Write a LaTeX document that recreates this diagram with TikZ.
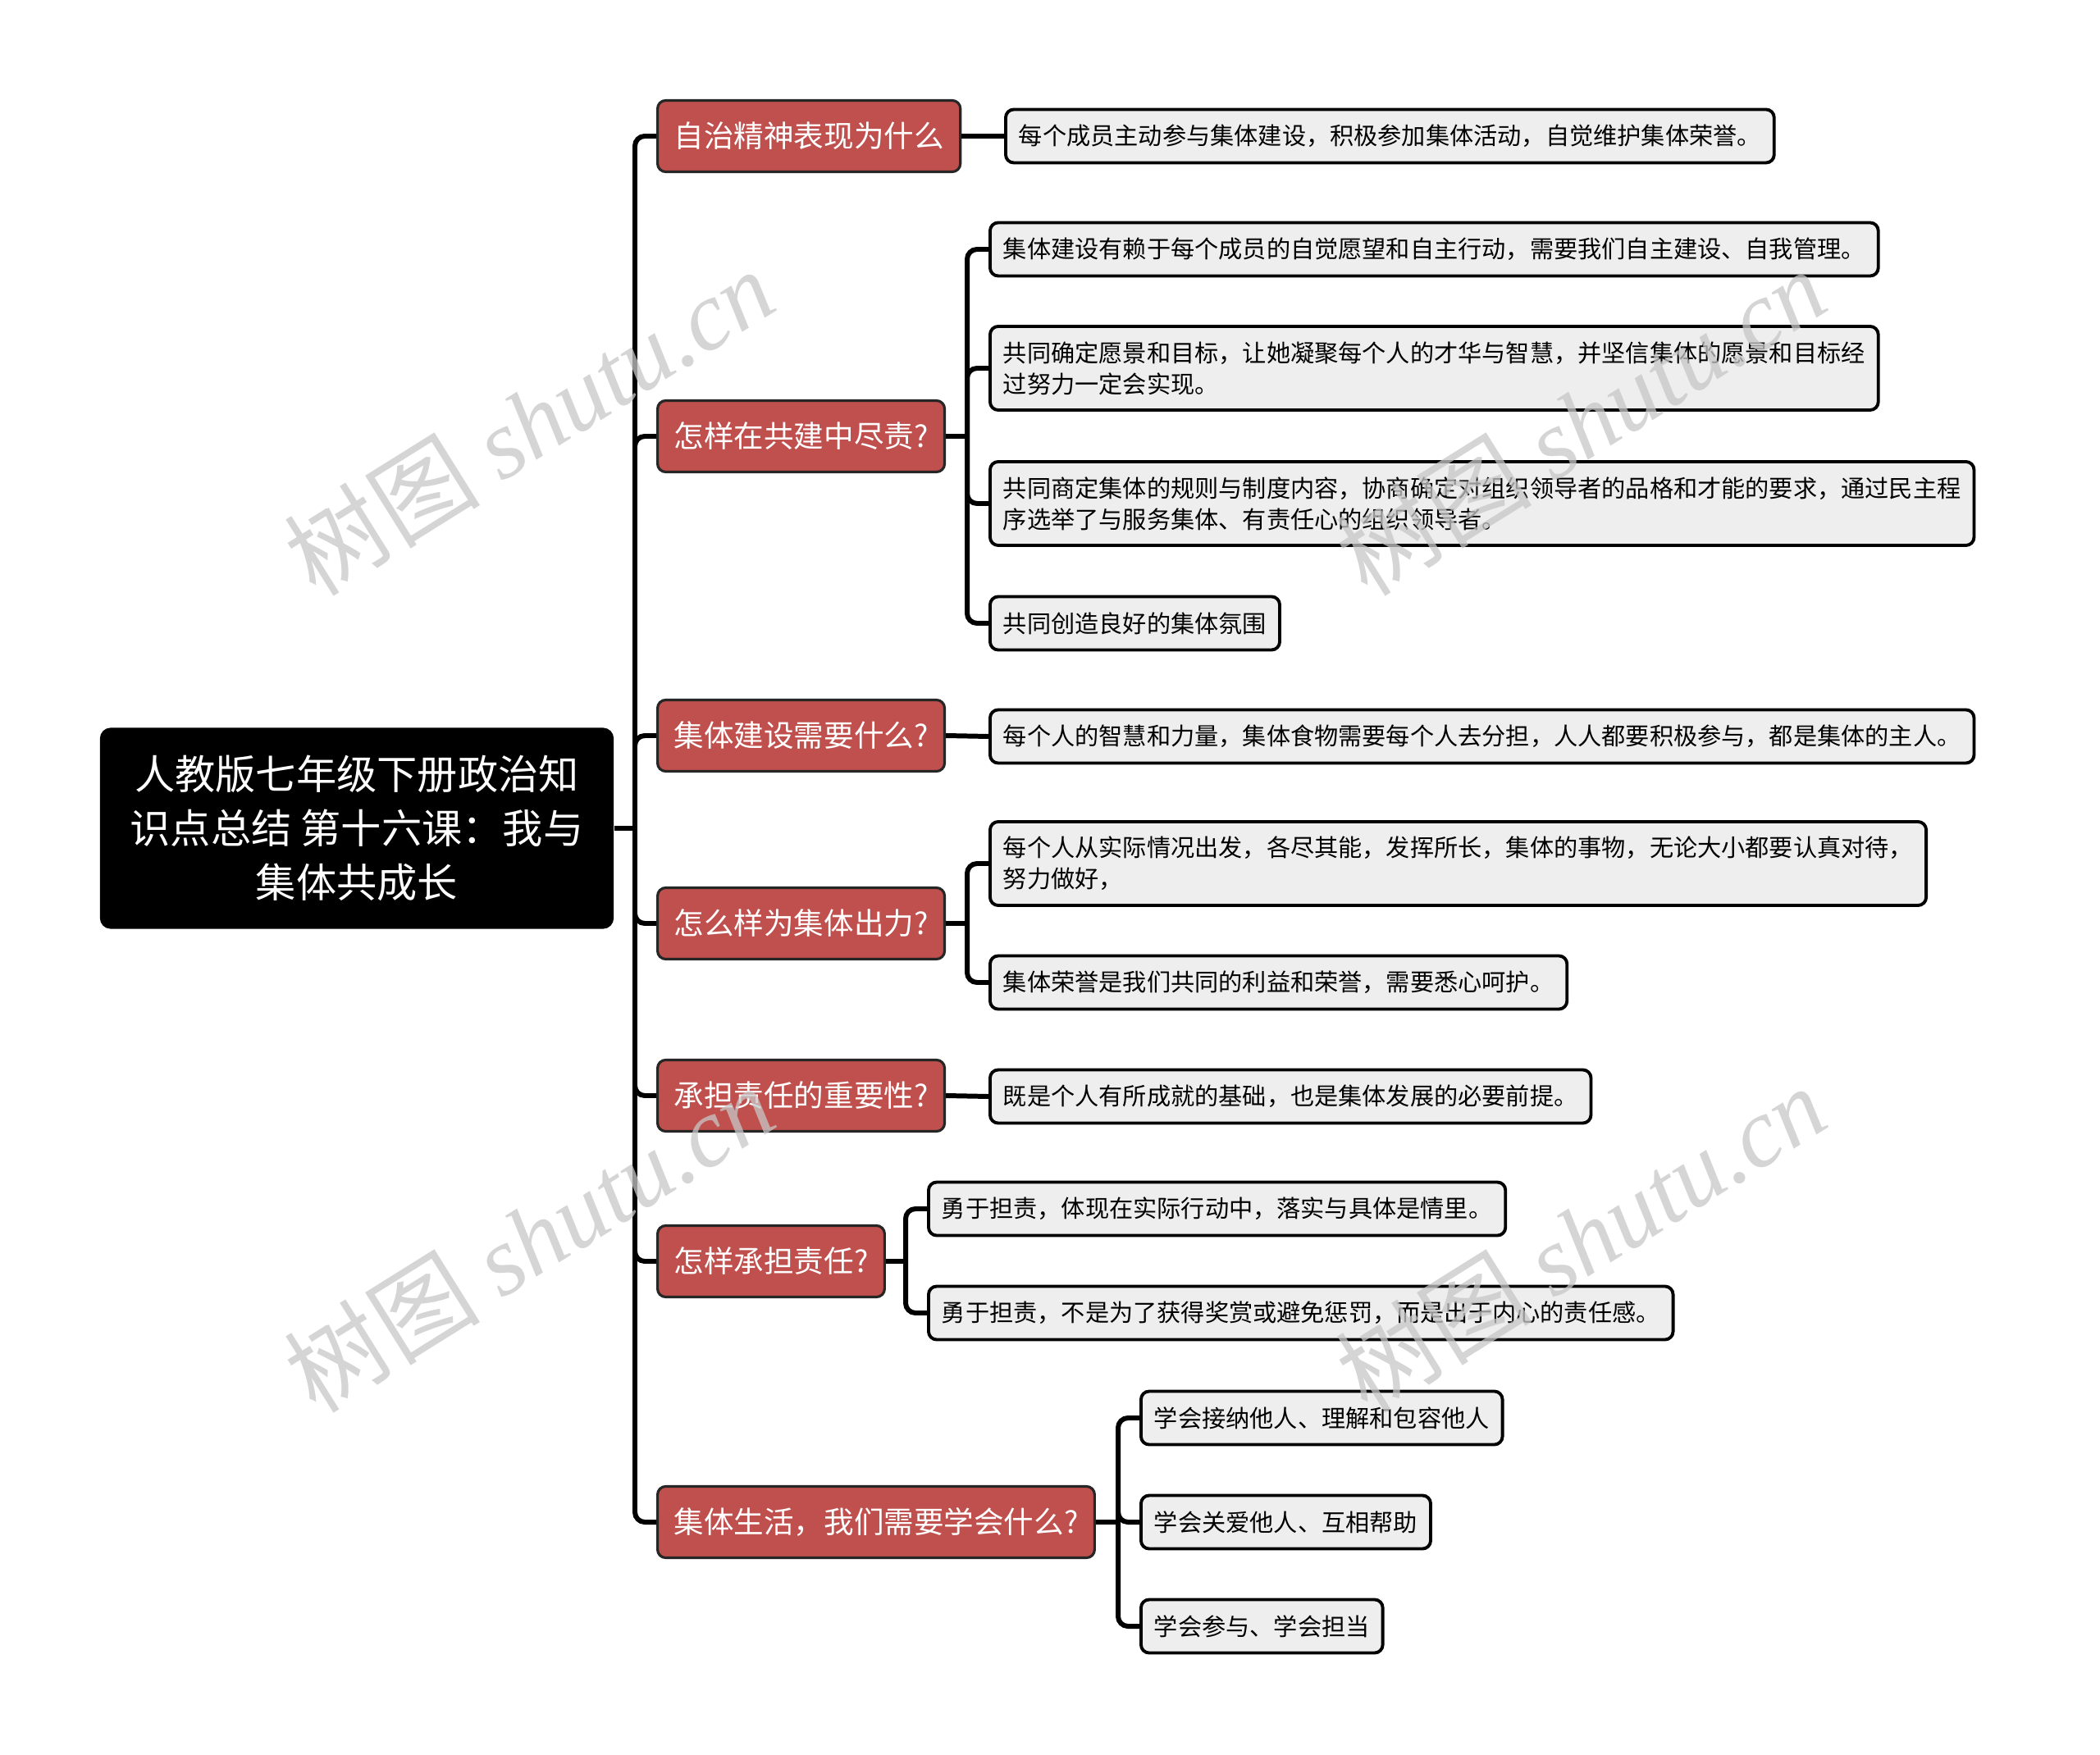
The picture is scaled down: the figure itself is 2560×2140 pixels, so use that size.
\documentclass[tikz,border=0pt]{standalone}
\usepackage{fontspec}
\setmainfont{Noto Sans CJK SC}
\newfontfamily\wmlatin{Liberation Serif}
\definecolor{topicred}{HTML}{C0504D}
\definecolor{leafgray}{HTML}{EEEEEE}
\tikzset{
  rootbox/.style={fill=black, rounded corners=0.13cm, text=white, align=center,
    minimum width=6.26cm, minimum height=2.45cm, font=\fontsize{14}{18.8}\selectfont},
  topic/.style={anchor=west, fill=topicred, draw=black!85, line width=0.9pt,
    rounded corners=0.1cm, text=white, minimum height=0.87cm, inner xsep=0.2cm,
    font=\fontsize{10.4}{12.5}\selectfont},
  leaf/.style={anchor=west, fill=leafgray, draw=black, line width=1.1pt,
    rounded corners=0.1cm, align=left, minimum height=0.65cm, inner xsep=0.16cm,
    font=\fontsize{8.3}{10.8}\selectfont},
  link/.style={line width=1.7pt, rounded corners=0.12cm},
  wmark/.style={text=black!22, opacity=0.75, rotate=32, font=\fontsize{34}{38}\selectfont}
}
\begin{document}
\begin{tikzpicture}[x=0.01cm, y=-0.01cm]
  \useasboundingbox (0,0) rectangle (2560,2140);

  \node[rootbox] (root) at (435,1010) {人教版七年级下册政治知\\识点总结 第十六课：我与\\集体共成长};

  \node[topic] (t1) at (800,166) {自治精神表现为什么};
  \node[topic] (t2) at (800,532) {怎样在共建中尽责?};
  \node[topic] (t3) at (800,897) {集体建设需要什么?};
  \node[topic] (t4) at (800,1126) {怎么样为集体出力?};
  \node[topic] (t5) at (800,1336) {承担责任的重要性?};
  \node[topic] (t6) at (800,1538) {怎样承担责任?};
  \node[topic] (t7) at (800,1856) {集体生活，我们需要学会什么?};

  \node[leaf] (l1) at (1224,166) {每个成员主动参与集体建设，积极参加集体活动，自觉维护集体荣誉。};
  \node[leaf] (l2a) at (1205,304) {集体建设有赖于每个成员的自觉愿望和自主行动，需要我们自主建设、自我管理。};
  \node[leaf, minimum height=1.02cm] (l2b) at (1205,449) {共同确定愿景和目标，让她凝聚每个人的才华与智慧，并坚信集体的愿景和目标经\\过努力一定会实现。};
  \node[leaf, minimum height=1.02cm] (l2c) at (1205,614) {共同商定集体的规则与制度内容，协商确定对组织领导者的品格和才能的要求，通过民主程\\序选举了与服务集体、有责任心的组织领导者。};
  \node[leaf] (l2d) at (1205,760) {共同创造良好的集体氛围};
  \node[leaf] (l3) at (1205,898) {每个人的智慧和力量，集体食物需要每个人去分担，人人都要积极参与，都是集体的主人。};
  \node[leaf, minimum height=1.02cm] (l4a) at (1205,1053) {每个人从实际情况出发，各尽其能，发挥所长，集体的事物，无论大小都要认真对待，\\努力做好，};
  \node[leaf] (l4b) at (1205,1198) {集体荣誉是我们共同的利益和荣誉，需要悉心呵护。};
  \node[leaf] (l5) at (1205,1337) {既是个人有所成就的基础，也是集体发展的必要前提。};
  \node[leaf] (l6a) at (1130,1474) {勇于担责，体现在实际行动中，落实与具体是情里。};
  \node[leaf] (l6b) at (1130,1601) {勇于担责，不是为了获得奖赏或避免惩罚，而是出于内心的责任感。};
  \node[leaf] (l7a) at (1389,1729) {学会接纳他人、理解和包容他人};
  \node[leaf] (l7b) at (1389,1856) {学会关爱他人、互相帮助};
  \node[leaf] (l7c) at (1389,1983) {学会参与、学会担当};

  \coordinate (hub) at (774,1010);
  \draw[link] (root.east) -- (hub);
  \foreach \t in {t1,t2,t3,t4,t5,t6,t7}
    \draw[link] (hub) |- (\t.west);

  \draw[link] (t1.east) -- (l1.west);
  \draw[link] (t3.east) -- (l3.west);
  \draw[link] (t5.east) -- (l5.west);

  \coordinate (b2) at (1179,532);
  \draw[link] (t2.east) -- (b2);
  \foreach \l in {l2a,l2b,l2c,l2d}
    \draw[link] (b2) |- (\l.west);

  \coordinate (b4) at (1179,1126);
  \draw[link] (t4.east) -- (b4);
  \foreach \l in {l4a,l4b}
    \draw[link] (b4) |- (\l.west);

  \coordinate (b6) at (1104,1538);
  \draw[link] (t6.east) -- (b6);
  \foreach \l in {l6a,l6b}
    \draw[link] (b6) |- (\l.west);

  \coordinate (b7) at (1363,1856);
  \draw[link] (t7.east) -- (b7);
  \foreach \l in {l7a,l7b,l7c}
    \draw[link] (b7) |- (\l.west);

  % watermarks
  \node[wmark] (wm1) at (645,514) {树图 {\wmlatin\itshape shutu.cn}};
  \node[wmark] (wm2) at (1927,514) {树图 {\wmlatin\itshape shutu.cn}};
  \node[wmark] (wm3) at (645,1510) {树图 {\wmlatin\itshape shutu.cn}};
  \node[wmark] (wm4) at (1927,1510) {树图 {\wmlatin\itshape shutu.cn}};
\end{tikzpicture}
\end{document}
